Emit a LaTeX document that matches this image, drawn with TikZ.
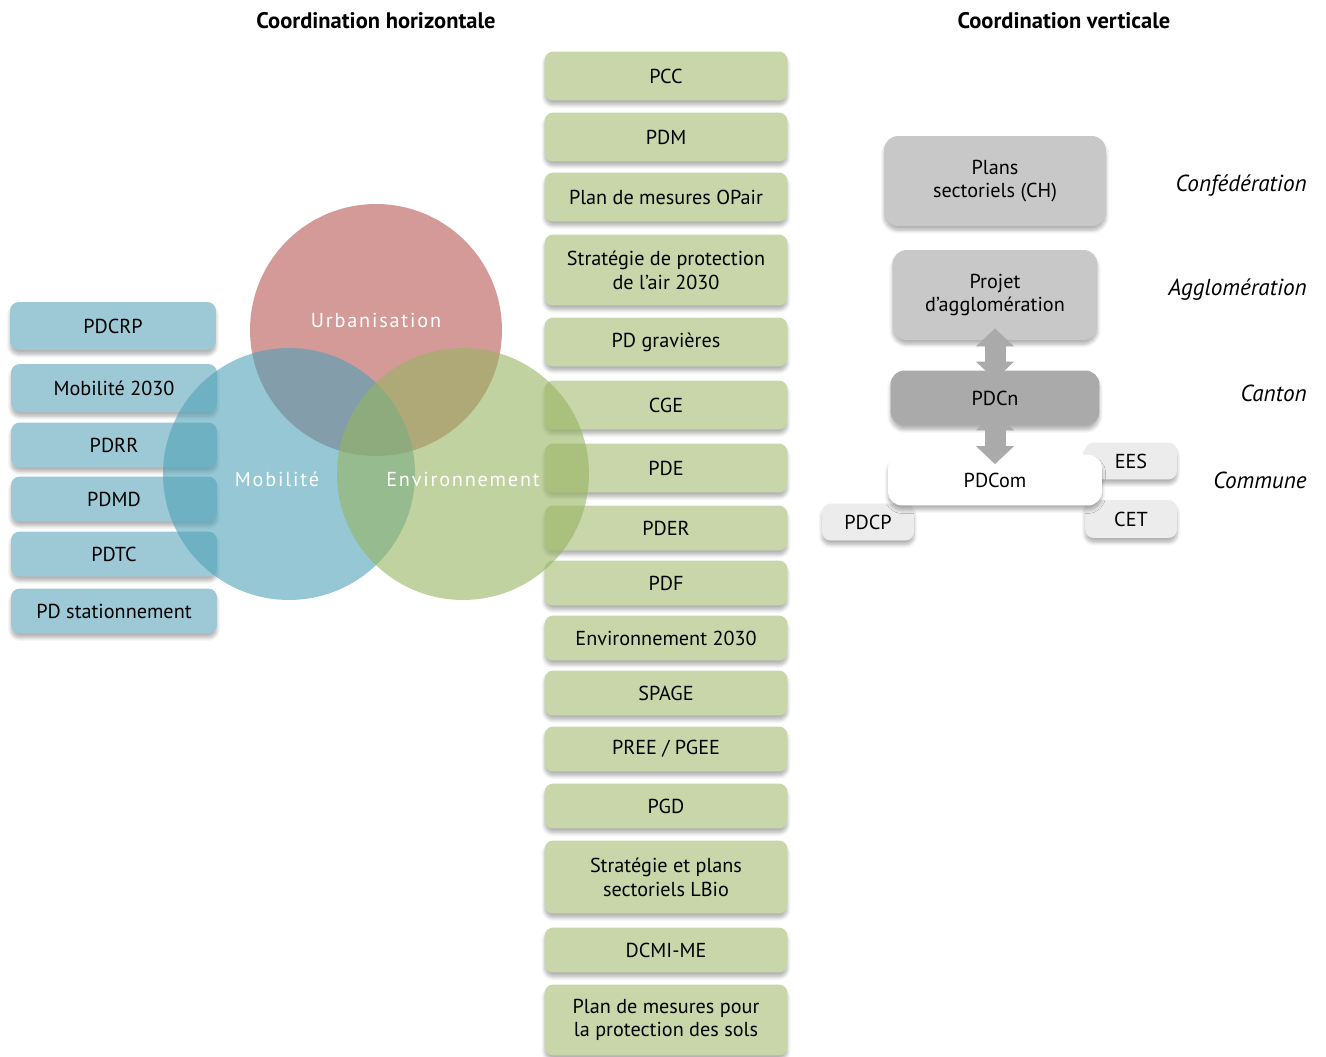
\documentclass[tikz,border=0pt]{standalone}
\usepackage{xcolor}
\usepackage{fontspec}
\setmainfont{PT Sans}
\usepackage{tikz}
\usetikzlibrary{positioning,arrows.meta,shadows.blur}

\definecolor{bleubox}{RGB}{156,201,213}
\definecolor{vertbox}{RGB}{200,214,170}
\definecolor{rouge}{RGB}{182,87,83}
\definecolor{bleu}{RGB}{78,161,183}
\definecolor{vert}{RGB}{150,180,97}
\definecolor{grisA}{RGB}{200,200,200}
\definecolor{grisB}{RGB}{170,170,170}
\definecolor{grisC}{RGB}{236,236,236}

\begin{document}
\begin{tikzpicture}[x=0.02cm,y=-0.02cm,font=\fontsize{11.5}{13.5}\selectfont]
        \tikzstyle{plan}=[rounded corners=5pt,inner sep=0pt,align=center,minimum height=0.9cm,
          blur shadow={shadow xshift=0pt,shadow yshift=-2.5pt,shadow blur steps=6,shadow opacity=30}]
        \tikzstyle{mob}=[plan,fill=bleubox,minimum width=4.12cm]
        \tikzstyle{env}=[plan,fill=vertbox,minimum width=4.86cm]
        \tikzstyle{niveau}=[plan,rounded corners=8pt,fill=grisA]
        \tikzstyle{petit}=[plan,fill=grisC,minimum width=1.84cm,minimum height=0.74cm]
        \tikzstyle{domaine}=[circle,minimum size=5.04cm,fill opacity=0.6]
        \tikzstyle{titre}=[font=\fontsize{12.8}{15}\selectfont\bfseries]
        \tikzstyle{echelle}=[anchor=east,inner sep=0pt,font=\fontsize{13.2}{15}\selectfont\itshape]
        \tikzstyle{fleche}=[draw=grisB,line width=0.42cm,
          {Triangle[length=0.36cm,width=0.74cm]}-{Triangle[length=0.36cm,width=0.74cm]}]
        \useasboundingbox (0,0) rectangle (1326,1057);

        \node[titre] (horiz) at (376,21) {Coordination horizontale};
        \node[titre] (vert) at (1064,21) {Coordination verticale};

        % mobilite
        \node[mob,minimum height=0.96cm] (PDCRP) at (113,326) {PDCRP};
        \node[mob,minimum height=0.96cm] (Mob) at (114,388) {Mobilité 2030};
        \node[mob] (PDRR) at (114,445) {PDRR};
        \node[mob] (PDMD) at (114,499) {PDMD};
        \node[mob] (PDTC) at (114,554) {PDTC};
        \node[mob] (PDst) at (114,611) {PD stationnement};

        % environnement
        \node[env,minimum height=0.98cm] (PCC) at (666,76) {PCC};
        \node[env,minimum height=0.98cm] (PDM) at (666,137) {PDM};
        \node[env,minimum height=0.98cm] (OPair) at (666,197) {Plan de mesures OPair};
        \node[env,minimum height=1.42cm] (Air) at (666,270) {Stratégie de protection\\de l'air 2030};
        \node[env,minimum height=0.98cm] (PDg) at (666,342) {PD gravières};
        \node[env,minimum height=0.98cm] (CGE) at (666,405) {CGE};
        \node[env,minimum height=0.98cm] (PDE) at (666,468) {PDE};
        \node[env] (PDER) at (666,528) {PDER};
        \node[env] (PDF) at (666,583) {PDF};
        \node[env] (Env) at (666,638) {Environnement 2030};
        \node[env] (SPAGE) at (666,693) {SPAGE};
        \node[env] (PREE) at (666,749) {PREE / PGEE};
        \node[env] (PGD) at (666,806) {PGD};
        \node[env,minimum height=1.46cm] (LBio) at (666,877) {Stratégie et plans\\sectoriels LBio};
        \node[env] (DCMI) at (666,950) {DCMI-ME};
        \node[env,minimum height=1.42cm] (Sols) at (666,1020) {Plan de mesures pour\\la protection des sols};

        % cercles
        \node[domaine,fill=rouge] (Urb) at (376,330) {};
        \node[domaine,fill=bleu] (Mobi) at (289,474) {};
        \node[domaine,fill=vert] (Envi) at (463,474) {};
        \begin{scope}[every node/.style={text=white,font=\fontsize{11.5}{13}\selectfont\addfontfeature{LetterSpace=9}}]
          \node (tUrb) at ([yshift=0.2cm]Urb) {Urbanisation};
          \node (tMob) at ([xshift=-0.24cm,yshift=-0.1cm]Mobi) {Mobilité};
          \node (tEnv) at ([yshift=-0.1cm]Envi) {Environnement};
        \end{scope}

        % niveaux
        \node[niveau,minimum width=4.44cm,minimum height=1.8cm] (CH) at (995,181) {Plans\\sectoriels (CH)};
        \node[niveau,minimum width=4.1cm,minimum height=1.8cm] (Agglo) at (995,295) {Projet\\d'agglomération};
        \node[niveau,fill=grisB,minimum width=4.18cm,minimum height=1.1cm] (PDCn) at (995,398) {PDCn};
        \node[petit] (EES) at (1131,461) {EES};
        \node[petit,minimum height=0.76cm] (CET) at (1131,519) {CET};
        \node[petit] (PDCP) at (868,522) {PDCP};
        \node[niveau,fill=white,minimum width=4.28cm,minimum height=1.02cm] (PDCom) at (995,480) {PDCom};

        \draw[fleche] ([yshift=0.24cm]Agglo.south) -- ([yshift=-0.19cm]PDCn.north);
        \draw[fleche] ([yshift=0.27cm]PDCn.south) -- ([yshift=-0.2cm]PDCom.north);

        \node[echelle] (Conf) at (1307,186) {Confédération};
        \node[echelle] (Aggl) at (1307,290) {Agglomération};
        \node[echelle] (Cant) at (1307,393) {Canton};
        \node[echelle] (Comm) at (1307,480) {Commune};
\end{tikzpicture}
\end{document}
